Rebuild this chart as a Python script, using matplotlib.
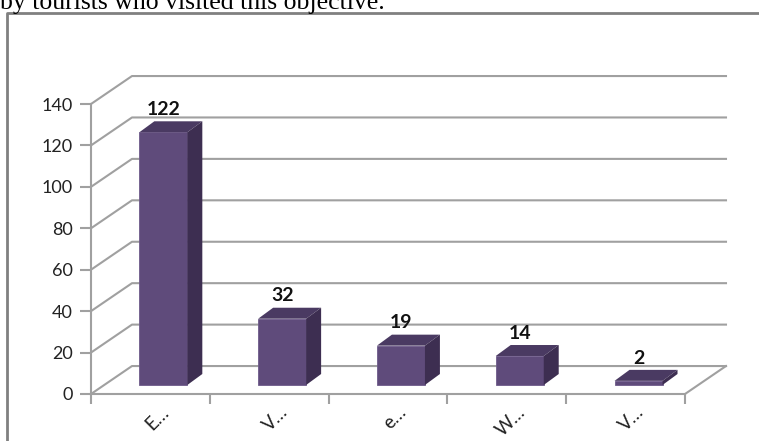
import matplotlib
matplotlib.use("Agg")
import matplotlib.pyplot as plt
from matplotlib.patches import Polygon

# data
categories = ["E…", "V…", "e…", "W…", "V…"]
values = [122, 32, 19, 14, 2]
yticks = [0, 20, 40, 60, 80, 100, 120, 140]

plt.rcParams['font.family'] = ['Lato', 'DejaVu Sans']

W, H = 759, 441
fig = plt.figure(figsize=(W / 100, H / 100), dpi=100)

# front plane of the 3d box, in pixels
x0px, x1px = 91, 685
y0px, ytop = 394, 104
ax = fig.add_axes([x0px / W, 1 - y0px / H, (x1px - x0px) / W, (y0px - ytop) / H])
ax.set_xlim(-0.5, len(categories) - 0.5)
ax.set_ylim(0, 140)

grid_col = "#a0a0a0"
# depth of the back wall
wdx, wdy = 0.345, 13.5
xl, xr = -0.5, len(categories) - 0.5
for v in yticks:
    ax.plot([xl, xl + wdx, xr + wdx], [v, v + wdy, v + wdy], color=grid_col,
            lw=1.5, clip_on=False, zorder=1)
ax.plot([xr, xr + wdx], [0, wdy], color=grid_col, lw=1.5, clip_on=False, zorder=1)

# bars with a fake 3d look
shift, base, bw = 0.109, 4.35, 0.404
bdx, bdy = 0.126, 5.3
xs = [i + shift for i in range(len(values))]
ax.bar(xs, values, width=bw, bottom=base, color="#5f4b7b", edgecolor="#6e5b8a",
       linewidth=0.6, zorder=3)
for x, v in zip(xs, values):
    l, r = x - bw / 2, x + bw / 2
    t = base + v
    ax.add_patch(Polygon([(l, t), (r, t), (r + bdx, t + bdy), (l + bdx, t + bdy)],
                         closed=True, facecolor="#4a3a62", edgecolor="none",
                         zorder=3, clip_on=False))
    ax.add_patch(Polygon([(r, base), (r + bdx, base + bdy), (r + bdx, t + bdy), (r, t)],
                         closed=True, facecolor="#3d2e51", edgecolor="none",
                         zorder=3, clip_on=False))
    ax.text(x, t + bdy + 1.6, str(v), ha="center", va="bottom", fontsize=14,
            fontweight="bold", color="#111111", clip_on=False, zorder=4)

# axes look
for s in ["top", "right"]:
    ax.spines[s].set_visible(False)
for s in ["left", "bottom"]:
    ax.spines[s].set_color(grid_col)
    ax.spines[s].set_linewidth(1.5)
ax.set_yticks(yticks)
ax.set_yticklabels([str(v) for v in yticks], fontsize=13, color="#222222")
ax.tick_params(axis="y", direction="out", length=8, width=1.5, color=grid_col, pad=5)
ax.set_xticks([i - 0.5 for i in range(len(categories) + 1)])
ax.set_xticklabels([])
ax.tick_params(axis="x", direction="out", length=7, width=1.5, color=grid_col)
for i, c in enumerate(categories):
    ax.text(i + 0.13, -7.5, c, rotation=45, rotation_mode="anchor", ha="right",
            va="center", fontsize=13.5, color="#222222", clip_on=False)
ax.patch.set_visible(False)

# chart border and text above the chart
fig.add_artist(plt.Line2D([7 / W, 7 / W, 1.0], [0, 1 - 12.5 / H, 1 - 12.5 / H],
                          color="#808080", lw=2, transform=fig.transFigure))
fig.text(0 / W, 1 - 9 / H, "by tourists who visited this objective.",
         family="Liberation Serif", fontsize=18.5, va="baseline", ha="left",
         color="#000000")

fig.savefig("out.png", dpi=100)
